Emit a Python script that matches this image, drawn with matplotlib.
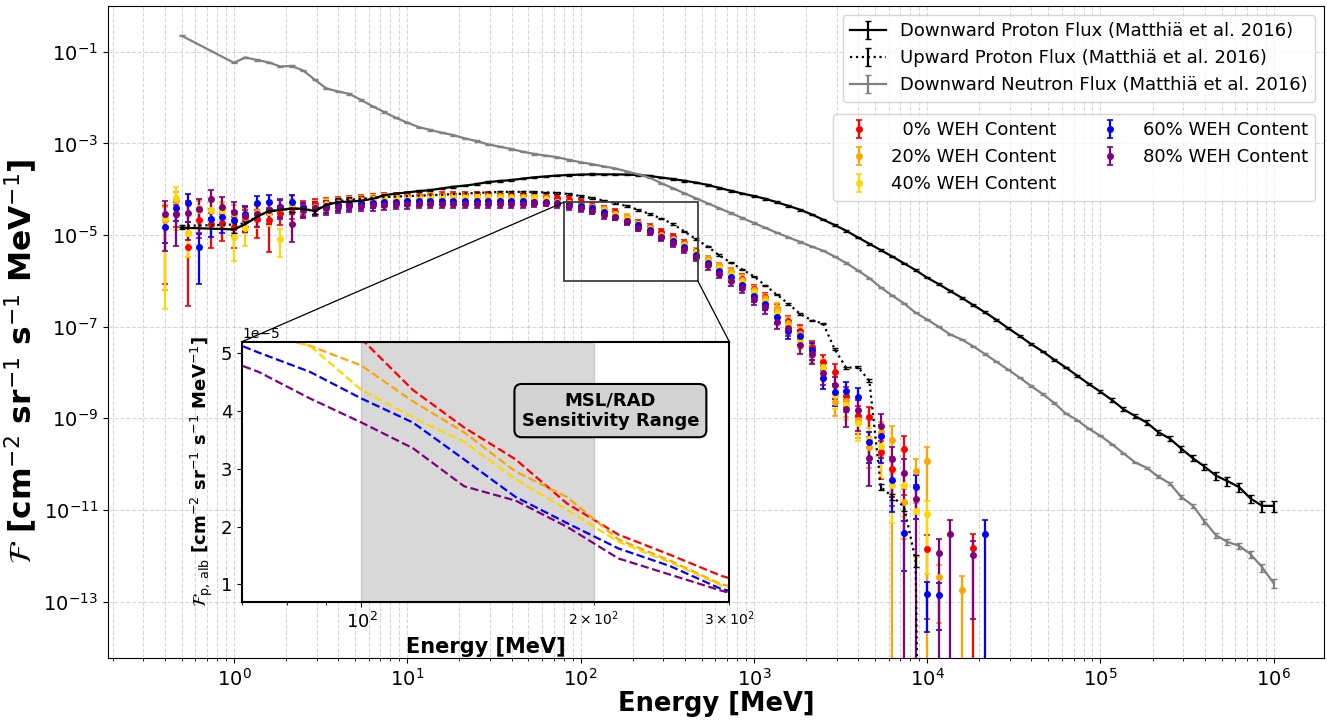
import numpy as np
import matplotlib.pyplot as plt
from matplotlib.patches import Rectangle, ConnectionPatch

nan = np.nan

# 15 logarithmic bins per decade
BIN_STEPS = [1.000, 1.166, 1.359, 1.585, 1.848, 2.154, 2.512, 2.929,
             3.415, 3.981, 4.642, 5.412, 6.310, 7.356, 8.577]

E_matthia = [0.5] + [s * 10.0**d for d in range(0, 6) for s in BIN_STEPS] + [1e6]
E_weh = [s * 10.0**d for d in range(-1, 5) for s in BIN_STEPS][9:81]

## Matthia et al. 2016 (log10 of flux)
down_p_log = [
    -4.84,
    -4.876, -4.76, -4.60, -4.476, -4.455, -4.417, -4.43, -4.476, -4.345, -4.28,
    -4.27, -4.25, -4.21, -4.13, -4.095, -4.07, -4.04, -4.02, -3.98, -3.946,
    -3.92, -3.887, -3.843, -3.82, -3.80, -3.767, -3.739, -3.72, -3.70, -3.69,
    -3.68, -3.673, -3.675, -3.675, -3.68, -3.69, -3.71, -3.745, -3.778, -3.815,
    -3.855, -3.905, -3.97, -4.033, -4.092, -4.149, -4.208, -4.284, -4.363, -4.446,
    -4.548, -4.664, -4.782, -4.906, -5.05, -5.19, -5.33, -5.47, -5.617, -5.764,
    -5.93, -6.07, -6.22, -6.37, -6.53, -6.685, -6.85, -7.03, -7.20, -7.38,
    -7.54, -7.72, -7.89, -8.07, -8.25, -8.42, -8.60, -8.80, -8.95, -9.09,
    -9.30, -9.44, -9.66, -9.87, -10.05, -10.25, -10.37, -10.50, -10.75, -10.91,
    -10.91]
up_p_log = [
    -4.80,
    -4.77, -4.74, -4.60, -4.48, -4.46, -4.42, -4.43, -4.47, -4.33, -4.26,
    -4.23, -4.21, -4.19, -4.17, -4.16, -4.15, -4.14, -4.13, -4.12, -4.105,
    -4.095, -4.08, -4.07, -4.06, -4.057, -4.057, -4.06, -4.07, -4.08, -4.105,
    -4.15, -4.195, -4.245, -4.302, -4.367, -4.45, -4.54, -4.64, -4.76, -4.92,
    -5.09, -5.25, -5.44, -5.60, -5.75, -5.90, -6.10, -6.30, -6.50, -6.72,
    -6.86, -6.93, -7.49, -7.90, -7.88, -8.18, -10.50, -10.71, -10.93, -12.09,
    -30.0]   # no counts in the last bin
neutron_log = [
    -0.651,
    -1.24, -1.123, -1.18, -1.23, -1.32, -1.31, -1.41, -1.61, -1.80, -1.864,
    -1.92, -2.05, -2.19, -2.313, -2.44, -2.545, -2.644, -2.706, -2.767, -2.818,
    -2.89, -2.948, -3.02, -3.071, -3.122, -3.18, -3.23, -3.267, -3.30, -3.36,
    -3.41, -3.453, -3.50, -3.545, -3.61, -3.675, -3.75, -3.868, -3.978, -4.088,
    -4.198, -4.306, -4.413, -4.52, -4.627, -4.735, -4.842, -4.95, -5.05, -5.15,
    -5.25, -5.34, -5.47, -5.61, -5.77, -5.94, -6.146, -6.325, -6.49, -6.695,
    -6.841, -7.003, -7.17, -7.28, -7.43, -7.595, -7.765, -7.935, -8.11, -8.295,
    -8.47, -8.665, -8.895, -9.04, -9.228, -9.38, -9.565, -9.763, -9.96, -10.08,
    -10.269, -10.42, -10.717, -10.904, -11.244, -11.55, -11.699, -11.781, -11.965, -12.25,
    -12.60]

# relative uncertainties
down_p_err = [0.05] + [0.15]*12 + [0.04]*62 + [0.06, 0.07, 0.08, 0.09, 0.10, 0.11, 0.12, 0.13,
                                              0.14, 0.15, 0.16, 0.18, 0.20, 0.22, 0.22, 0.25, 0.25]
up_p_err = [0.05] + [0.15]*12 + [0.04]*40 + [0.05, 0.06, 0.07, 0.08, 0.15, 0.15, 0.20, 0.30, 0.0]
neutron_err = [0.03]*80 + [0.05, 0.06, 0.07, 0.08, 0.10, 0.12, 0.14, 0.15, 0.16, 0.18, 0.20, 0.22]

## albedo proton flux for each WEH content (log10), 0.4 MeV .. 21 GeV
red_log = [
    -4.66, -4.53, -5.25, -4.67, -4.75, -4.74,
    -4.82, -4.62, -4.66, -4.67, -4.52, -4.42, -4.38, -4.33, -4.30, -4.27,
    -4.25, -4.22, -4.19, -4.17, -4.16, -4.15, -4.14, -4.14, -4.13, -4.13,
    -4.13, -4.13, -4.13, -4.14, -4.14, -4.15, -4.16, -4.17, -4.19, -4.23,
    -4.28, -4.36, -4.43, -4.50, -4.62, -4.73, -4.82, -4.94, -5.05, -5.17,
    -5.35, -5.53, -5.68, -5.80, -5.95, -6.18, -6.36, -6.62, -6.88, -7.10,
    -7.45, -7.78, -7.98, -8.51, -8.94, -8.96, -9.73, -10.10, -9.67, nan,
    -11.85, nan, nan, nan, -11.82, nan]
orange_log = [
    -4.68, -4.24, -4.95, -4.45, -4.45, -4.47,
    -4.55, -4.60, -4.50, -4.45, -4.40, -4.30, -4.45, -4.38, -4.33, -4.30,
    -4.27, -4.24, -4.21, -4.19, -4.18, -4.17, -4.16, -4.16, -4.15, -4.15,
    -4.15, -4.15, -4.15, -4.15, -4.16, -4.16, -4.17, -4.20, -4.27, -4.29,
    -4.32, -4.38, -4.44, -4.53, -4.60, -4.75, -4.85, -5.00, -5.08, -5.19,
    -5.36, -5.53, -5.68, -5.80, -5.97, -6.20, -6.38, -6.60, -6.92, -7.15,
    -7.55, -7.90, -8.64, -8.62, -9.04, -9.63, -9.30, -9.47, -10.82, -10.14,
    -9.93, -12.47, nan, -12.75, nan, nan]
yellow_log = [
    -4.62, -4.20, -4.95, -4.42, -4.46, -4.48,
    -5.05, -4.85, -4.55, -4.50, -5.08, -4.35, -4.45, -4.40, -4.34, -4.31,
    -4.28, -4.25, -4.22, -4.20, -4.19, -4.18, -4.18, -4.17, -4.17, -4.17,
    -4.17, -4.17, -4.17, -4.18, -4.18, -4.19, -4.20, -4.22, -4.27, -4.29,
    -4.36, -4.41, -4.46, -4.55, -4.64, -4.76, -4.86, -5.01, -5.10, -5.21,
    -5.38, -5.56, -5.72, -5.85, -6.02, -6.25, -6.44, -6.68, -6.98, -7.30,
    -7.60, -7.87, -8.50, -8.70, -9.10, -9.44, -9.60, -10.46, -10.46, -11.02,
    -11.09, nan, nan, nan, nan, nan]
blue_log = [
    -4.82, -4.40, -4.31, -5.25, -4.64, -4.60,
    -4.67, -4.55, -4.31, -4.28, -4.38, -4.27, -4.42, -4.40, -4.36, -4.34,
    -4.32, -4.30, -4.29, -4.28, -4.27, -4.26, -4.26, -4.25, -4.25, -4.25,
    -4.25, -4.25, -4.25, -4.26, -4.26, -4.26, -4.27, -4.27, -4.30, -4.33,
    -4.375, -4.42, -4.50, -4.60, -4.686, -4.79, -4.88, -5.036, -5.14, -5.26,
    -5.43, -5.61, -5.78, -5.92, -6.08, -6.33, -6.50, -6.78, -7.10, -7.20,
    -7.50, -8.11, -8.42, -8.40, -8.54, -9.51, -9.38, -10.35, -11.51, -10.49,
    -12.83, -12.86, nan, nan, nan, -11.53]
purple_log = [
    -4.53, -4.53, -4.51, -4.44, -4.22, -4.38,
    -4.49, -4.58, -4.53, -4.45, -4.38, -4.75, -4.45, -4.42, -4.40, -4.38,
    -4.37, -4.36, -4.35, -4.34, -4.33, -4.33, -4.32, -4.32, -4.32, -4.32,
    -4.32, -4.32, -4.32, -4.32, -4.32, -4.32, -4.31, -4.30, -4.33, -4.375,
    -4.42, -4.474, -4.569, -4.611, -4.70, -4.839, -4.932, -5.05, -5.18, -5.30,
    -5.47, -5.66, -5.84, -6.00, -6.15, -6.40, -6.58, -6.90, -7.02, -7.40,
    -7.60, -8.02, -8.27, -8.80, -8.82, -9.87, -9.16, -9.89, -10.19, -10.75,
    nan, -11.93, -11.53, nan, -11.98, nan]

# relative uncertainties: low-energy part, shared middle part, high-energy part
weh_mid_err = [0.26, 0.25, 0.24, 0.23, 0.22, 0.21, 0.20, 0.20, 0.19, 0.19,
               0.18, 0.18, 0.18, 0.17, 0.17, 0.17, 0.17, 0.16, 0.16, 0.16,
               0.15, 0.15, 0.15, 0.15, 0.15, 0.15, 0.16, 0.16, 0.17, 0.17,
               0.18, 0.19, 0.20, 0.22, 0.23, 0.25, 0.27, 0.30, 0.33, 0.36]
red_err = ([0.96, 0.50, 0.95, 0.60, 0.70, 0.60, 0.65, 0.50, 0.60, 0.80, 0.45, 0.40, 0.35, 0.30, 0.30, 0.28]
           + weh_mid_err
           + [0.40, 0.45, 0.50, 0.55, 0.60, 0.65, 0.75, 0.85, 0.90, 0.90, 0.97, 1.0, 1.0, 1.0, 1.0, 1.0])
orange_err = ([0.97, 0.50, 0.70, 0.60, 0.50, 0.55, 0.60, 0.55, 0.50, 0.50, 0.45, 0.40, 0.35, 0.30, 0.30, 0.28]
              + weh_mid_err
              + [0.40, 0.45, 0.50, 0.55, 0.60, 0.65, 0.70, 1.0, 0.85, 0.80, 1.0, 0.90, 1.0, 1.0, 1.0, 1.0])
yellow_err = ([0.99, 0.80, 0.70, 0.60, 0.55, 0.50, 0.70, 0.60, 0.50, 0.50, 0.60, 0.40, 0.35, 0.30, 0.30, 0.28]
              + weh_mid_err
              + [0.40, 0.45, 0.50, 0.55, 0.60, 0.70, 0.80, 0.85, 0.80, 0.90, 0.95, 1.0, 1.0, 1.0, 1.0, 1.0])
blue_err = ([0.55, 0.50, 0.60, 0.85, 0.60, 0.55, 0.55, 0.50, 0.45, 0.45, 0.40, 0.40, 0.35, 0.30, 0.30, 0.28]
            + weh_mid_err
            + [0.40, 0.45, 0.50, 0.55, 0.60, 0.65, 0.75, 0.80, 0.85, 0.80, 0.85, 0.83, 1.0, 1.0, 1.0, 1.0])
purple_err = ([0.85, 0.80, 0.75, 0.70, 0.60, 0.60, 0.60, 0.55, 0.50, 0.50, 0.45, 0.60, 0.35, 0.30, 0.30, 0.28]
              + weh_mid_err
              + [0.40, 0.45, 0.50, 0.60, 0.65, 0.75, 0.80, 0.85, 1.0, 1.0, 1.0, 1.0, 1.0, 1.0, 0.96, 1.0])

weh_labels = ['  0% WEH Content', '20% WEH Content', '40% WEH Content',
              '60% WEH Content', '80% WEH Content']
weh_colors = ['red', 'orange', 'gold', 'blue', 'purple']
weh_logs = [red_log, orange_log, yellow_log, blue_log, purple_log]
weh_errs = [red_err, orange_err, yellow_err, blue_err, purple_err]

x_ticks = [1e0, 1e1, 1e2, 1e3, 1e4, 1e5, 1e6]
y_ticks = [1e-13, 1e-11, 1e-9, 1e-7, 1e-5, 1e-3, 1e-1]


def lin(log_vals, rel_err):
    v = 10.0 ** np.array(log_vals)
    return v, v * np.array(rel_err)


fig = plt.figure(figsize=(13.27, 7.21), dpi=100)
ax = fig.add_axes([0.0812, 0.087, 0.9168, 0.9047])
ax.set_xscale('log')
ax.set_yscale('log')

# WEH albedo spectra
weh_handles = []
for lg, er, c, lab in zip(weh_logs, weh_errs, weh_colors, weh_labels):
    v, e = lin(lg, er)
    h = ax.errorbar(E_weh, v, yerr=e, fmt='o', color=c, ms=4, capsize=2.5,
                    elinewidth=1.6, capthick=1.2, label=lab)
    weh_handles.append(h)

# Matthia et al. fluxes
v, e = lin(down_p_log, down_p_err)
h_down = ax.errorbar(E_matthia, v, yerr=e, color='k', ls='-', lw=1.6, capsize=2.5,
                     label='Downward Proton Flux (Matthiä et al. 2016)')
v, e = lin(up_p_log, up_p_err)
h_up = ax.errorbar(E_matthia[:len(up_p_log)], v, yerr=e, color='k', ls=':', lw=1.6, capsize=2.5,
                   label='Upward Proton Flux (Matthiä et al. 2016)')
v, e = lin(neutron_log, neutron_err)
h_neu = ax.errorbar(E_matthia, v, yerr=e, color='gray', ls='-', lw=1.6, capsize=2.5,
                    label='Downward Neutron Flux (Matthiä et al. 2016)')

ax.set_xlim(0.187, 1.96e6)
ax.set_ylim(5.8e-15, 1.0)
ax.set_xticks(x_ticks)
ax.set_yticks(y_ticks)
ax.grid(True, which='both', ls='--', alpha=0.5)
ax.tick_params(labelsize=14)
ax.set_xlabel('Energy [MeV]', fontsize=18.5, fontweight='bold', labelpad=1)
ax.set_ylabel(r'$\mathcal{F}$ [cm$^{-2}$ sr$^{-1}$ s$^{-1}$ MeV$^{-1}$]',
              fontsize=22.5, fontweight='bold')
ax.yaxis.set_label_coords(-0.056, 0.455)

leg1 = ax.legend(handles=[h_down, h_up, h_neu], loc='upper right', fontsize=13)
ax.add_artist(leg1)
ax.legend(handles=weh_handles, loc='upper right', ncol=2, fontsize=13,
          bbox_to_anchor=(1.0, 0.848))

# zoom region and inset
zoom_x = (80, 475)
zoom_y = (1e-6, 5.2e-5)
ax.add_patch(Rectangle((zoom_x[0], zoom_y[0]), zoom_x[1] - zoom_x[0], zoom_y[1] - zoom_y[0],
                       fill=False, ec='0.25', lw=1.3, zorder=5))

axins = fig.add_axes([0.18237, 0.16546, 0.36722, 0.36061])
axins.set_xscale('log')
axins.axvspan(100, 200, color='gray', alpha=0.3)
for lg, c in zip(weh_logs, weh_colors):
    axins.plot(E_weh, 10.0 ** np.array(lg), ls='--', color=c, lw=1.6)
axins.set_xlim(70, 300)
axins.set_ylim(0.7e-5, 5.2e-5)
axins.tick_params(labelsize=13)
axins.set_xlabel('Energy [MeV]', fontsize=15, fontweight='bold')
axins.set_ylabel(r'$\mathcal{F}_\mathrm{p,\,alb}$ [cm$^{-2}$ sr$^{-1}$ s$^{-1}$ MeV$^{-1}$]',
                 fontsize=13, fontweight='bold')
for sp in axins.spines.values():
    sp.set_linewidth(1.5)
axins.text(0.756, 0.735, 'MSL/RAD\nSensitivity Range', transform=axins.transAxes,
           ha='center', va='center', fontsize=13, fontweight='bold',
           bbox=dict(boxstyle='round,pad=0.4', fc='lightgray', ec='k', lw=1.5))

con1 = ConnectionPatch(xyA=(0, 1), coordsA=axins.transAxes,
                       xyB=(zoom_x[0], zoom_y[1]), coordsB=ax.transData, color='k', lw=0.9)
con2 = ConnectionPatch(xyA=(1, 1), coordsA=axins.transAxes,
                       xyB=(zoom_x[1], zoom_y[0]), coordsB=ax.transData, color='k', lw=0.9)
fig.add_artist(con1)
fig.add_artist(con2)

fig.savefig('out.png', dpi=100)
